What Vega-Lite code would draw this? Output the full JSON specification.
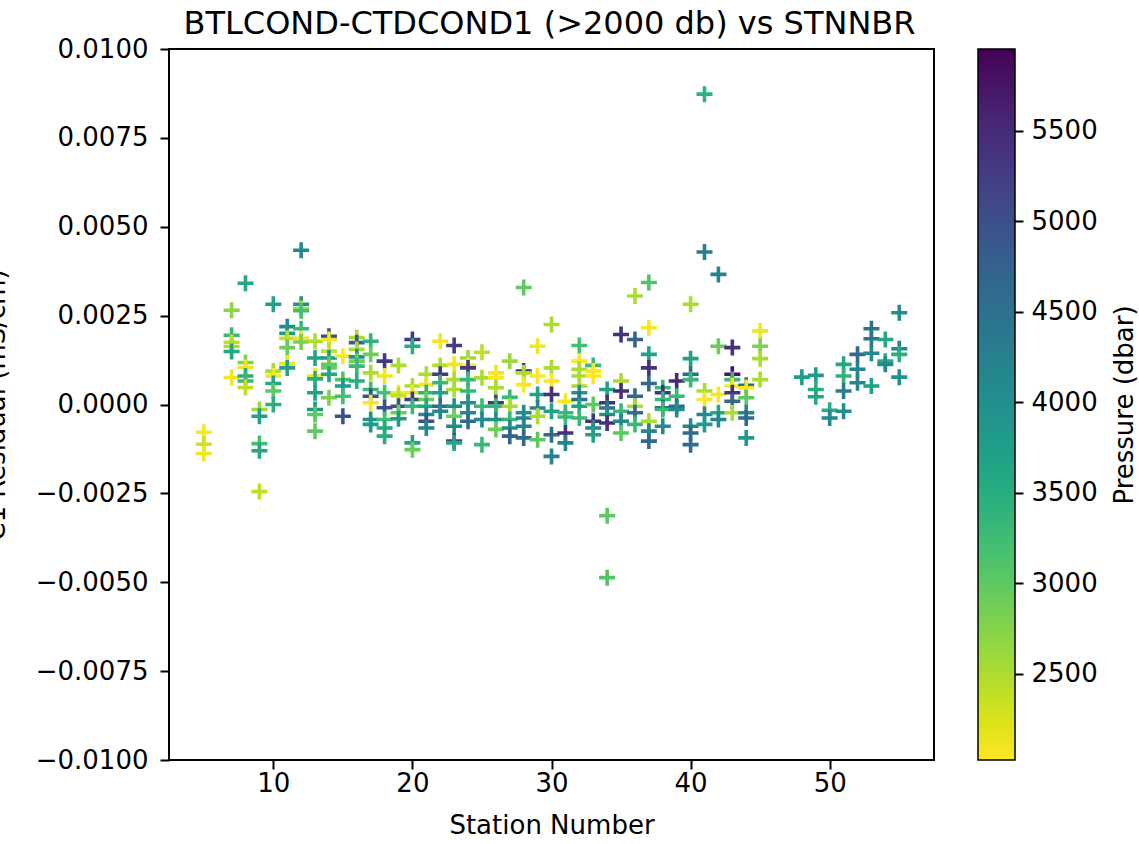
{
"$schema": "https://vega.github.io/schema/vega-lite/v6.json",
"width": 765, "height": 711,
"autosize": {"type": "none"},
"padding": {"left": 169, "top": 49, "right": 205, "bottom": 84},
"background": "white",
"config": {"font": "DejaVu Sans", "view": {"stroke": "black", "strokeWidth": 2}, "axis": {"grid": false}},
"data": {"values": [
{"stn":5,"res":-0.00078,"pres":2050},{"stn":5,"res":-0.00112,"pres":2300},{"stn":5,"res":-0.00138,"pres":2100},
{"stn":7,"res":0.00265,"pres":2700},{"stn":7,"res":0.00195,"pres":3300},{"stn":7,"res":0.00175,"pres":2400},{"stn":7,"res":0.00163,"pres":2500},{"stn":7,"res":0.00149,"pres":3600},{"stn":7,"res":0.00076,"pres":2100},
{"stn":8,"res":0.00341,"pres":3600},{"stn":8,"res":0.00118,"pres":2800},{"stn":8,"res":0.00104,"pres":2100},{"stn":8,"res":0.0008,"pres":3500},{"stn":8,"res":0.00066,"pres":3300},{"stn":8,"res":0.00048,"pres":2400},
{"stn":9,"res":-0.00014,"pres":2600},{"stn":9,"res":-0.00033,"pres":3700},{"stn":9,"res":-0.0011,"pres":3200},{"stn":9,"res":-0.0013,"pres":3600},{"stn":9,"res":-0.00245,"pres":2400},
{"stn":10,"res":0.00282,"pres":3700},{"stn":10,"res":0.00094,"pres":2500},{"stn":10,"res":0.0008,"pres":2100},{"stn":10,"res":0.00059,"pres":3600},{"stn":10,"res":0.00038,"pres":3000},{"stn":10,"res":0.0,"pres":3500},
{"stn":11,"res":0.00219,"pres":4100},{"stn":11,"res":0.002,"pres":3900},{"stn":11,"res":0.00186,"pres":2400},{"stn":11,"res":0.0016,"pres":2900},{"stn":11,"res":0.00115,"pres":2100},{"stn":11,"res":0.00103,"pres":3700},
{"stn":12,"res":0.00434,"pres":4100},{"stn":12,"res":0.00282,"pres":4000},{"stn":12,"res":0.0027,"pres":2500},{"stn":12,"res":0.00264,"pres":3200},{"stn":12,"res":0.00213,"pres":3300},{"stn":12,"res":0.00186,"pres":2100},{"stn":12,"res":0.00176,"pres":2800},
{"stn":13,"res":0.00178,"pres":2500},{"stn":13,"res":0.00131,"pres":3700},{"stn":13,"res":0.0008,"pres":2100},{"stn":13,"res":0.00072,"pres":3500},{"stn":13,"res":0.00033,"pres":3700},{"stn":13,"res":-0.00014,"pres":3900},{"stn":13,"res":-0.00028,"pres":3000},{"stn":13,"res":-0.00075,"pres":3000},
{"stn":14,"res":0.00192,"pres":5000},{"stn":14,"res":0.00183,"pres":2100},{"stn":14,"res":0.0015,"pres":2400},{"stn":14,"res":0.00131,"pres":3800},{"stn":14,"res":0.00113,"pres":3000},{"stn":14,"res":0.00103,"pres":2900},{"stn":14,"res":0.00085,"pres":3600},{"stn":14,"res":0.00019,"pres":2800},
{"stn":15,"res":0.00136,"pres":2050},{"stn":15,"res":0.0007,"pres":3100},{"stn":15,"res":0.00052,"pres":3800},{"stn":15,"res":0.00023,"pres":3200},{"stn":15,"res":-0.00033,"pres":5000},
{"stn":16,"res":0.00188,"pres":2500},{"stn":16,"res":0.00174,"pres":4800},{"stn":16,"res":0.00155,"pres":2500},{"stn":16,"res":0.00134,"pres":4000},{"stn":16,"res":0.00122,"pres":2900},{"stn":16,"res":0.00108,"pres":3300},{"stn":16,"res":0.00066,"pres":3500},
{"stn":17,"res":0.00178,"pres":3400},{"stn":17,"res":0.00141,"pres":2900},{"stn":17,"res":0.00089,"pres":2500},{"stn":17,"res":0.00042,"pres":3300},{"stn":17,"res":0.00023,"pres":5000},{"stn":17,"res":0.00005,"pres":2050},{"stn":17,"res":-0.00042,"pres":4000},{"stn":17,"res":-0.00056,"pres":3800},
{"stn":18,"res":0.00122,"pres":5300},{"stn":18,"res":0.0008,"pres":2100},{"stn":18,"res":0.00033,"pres":3200},{"stn":18,"res":-0.00009,"pres":5000},{"stn":18,"res":-0.00042,"pres":3200},{"stn":18,"res":-0.00066,"pres":3600},{"stn":18,"res":-0.00089,"pres":3500},
{"stn":19,"res":0.0011,"pres":2500},{"stn":19,"res":0.00033,"pres":2050},{"stn":19,"res":0.00025,"pres":2400},{"stn":19,"res":-0.00005,"pres":5000},{"stn":19,"res":-0.00023,"pres":2900},{"stn":19,"res":-0.0004,"pres":3800},
{"stn":20,"res":0.00183,"pres":5300},{"stn":20,"res":0.00164,"pres":3500},{"stn":20,"res":0.00052,"pres":2500},{"stn":20,"res":0.00033,"pres":2100},{"stn":20,"res":0.00014,"pres":5300},{"stn":20,"res":-0.00005,"pres":3300},{"stn":20,"res":-0.00108,"pres":3700},{"stn":20,"res":-0.00127,"pres":2900},
{"stn":21,"res":0.00085,"pres":2500},{"stn":21,"res":0.00056,"pres":2100},{"stn":21,"res":0.00033,"pres":3400},{"stn":21,"res":0.00014,"pres":2900},{"stn":21,"res":-0.00005,"pres":3600},{"stn":21,"res":-0.00028,"pres":4100},{"stn":21,"res":-0.00047,"pres":5000},{"stn":21,"res":-0.00066,"pres":4200},
{"stn":22,"res":0.00178,"pres":2100},{"stn":22,"res":0.0011,"pres":2500},{"stn":22,"res":0.00085,"pres":5300},{"stn":22,"res":0.00061,"pres":3300},{"stn":22,"res":0.00033,"pres":3700},{"stn":22,"res":-0.00005,"pres":4600},{"stn":22,"res":-0.00019,"pres":4100},
{"stn":23,"res":0.00166,"pres":5300},{"stn":23,"res":0.00113,"pres":2100},{"stn":23,"res":0.0007,"pres":2500},{"stn":23,"res":0.00042,"pres":2500},{"stn":23,"res":-0.00005,"pres":4000},{"stn":23,"res":-0.00033,"pres":2900},{"stn":23,"res":-0.00061,"pres":4100},{"stn":23,"res":-0.00103,"pres":5100},{"stn":23,"res":-0.00108,"pres":3600},
{"stn":24,"res":0.00131,"pres":2600},{"stn":24,"res":0.0011,"pres":2050},{"stn":24,"res":0.00103,"pres":5300},{"stn":24,"res":0.0007,"pres":3300},{"stn":24,"res":0.00038,"pres":3300},{"stn":24,"res":0.00005,"pres":4000},{"stn":24,"res":-0.00023,"pres":4100},{"stn":24,"res":-0.00047,"pres":4600},
{"stn":25,"res":0.00147,"pres":2400},{"stn":25,"res":0.00075,"pres":2500},{"stn":25,"res":-0.00005,"pres":3300},{"stn":25,"res":-0.00042,"pres":4100},{"stn":25,"res":-0.00113,"pres":3300},
{"stn":26,"res":0.00089,"pres":2100},{"stn":26,"res":0.00075,"pres":2050},{"stn":26,"res":0.00047,"pres":2500},{"stn":26,"res":0.00005,"pres":5300},{"stn":26,"res":-0.00005,"pres":3300},{"stn":26,"res":-0.00042,"pres":4000},{"stn":26,"res":-0.0007,"pres":2900},
{"stn":27,"res":0.00122,"pres":2600},{"stn":27,"res":0.0002,"pres":3300},{"stn":27,"res":-0.00005,"pres":2500},{"stn":27,"res":-0.00042,"pres":3300},{"stn":27,"res":-0.00066,"pres":4000},{"stn":27,"res":-0.00089,"pres":4700},
{"stn":28,"res":0.00329,"pres":3000},{"stn":28,"res":0.00094,"pres":5400},{"stn":28,"res":0.00089,"pres":2500},{"stn":28,"res":0.00056,"pres":2050},{"stn":28,"res":-0.00023,"pres":4000},{"stn":28,"res":-0.00038,"pres":4100},{"stn":28,"res":-0.00061,"pres":4200},{"stn":28,"res":-0.00094,"pres":4600},
{"stn":29,"res":0.00164,"pres":2100},{"stn":29,"res":0.0008,"pres":2050},{"stn":29,"res":0.00028,"pres":3700},{"stn":29,"res":-0.0001,"pres":4200},{"stn":29,"res":-0.00033,"pres":2500},{"stn":29,"res":-0.00099,"pres":3000},
{"stn":30,"res":0.00225,"pres":2500},{"stn":30,"res":0.00103,"pres":2500},{"stn":30,"res":0.00066,"pres":2050},{"stn":30,"res":0.00028,"pres":5400},{"stn":30,"res":-0.00019,"pres":3700},{"stn":30,"res":-0.00085,"pres":4600},{"stn":30,"res":-0.00146,"pres":4200},
{"stn":31,"res":0.00009,"pres":2050},{"stn":31,"res":-0.00023,"pres":3300},{"stn":31,"res":-0.00035,"pres":3300},{"stn":31,"res":-0.0008,"pres":5400},{"stn":31,"res":-0.00108,"pres":4200},
{"stn":32,"res":0.00166,"pres":3200},{"stn":32,"res":0.00122,"pres":2050},{"stn":32,"res":0.00099,"pres":2500},{"stn":32,"res":0.0008,"pres":2500},{"stn":32,"res":0.00052,"pres":2500},{"stn":32,"res":0.00033,"pres":3900},{"stn":32,"res":0.00014,"pres":4500},{"stn":32,"res":-0.00005,"pres":3700},{"stn":32,"res":-0.00038,"pres":3300},
{"stn":33,"res":0.0011,"pres":3300},{"stn":33,"res":0.00094,"pres":2050},{"stn":33,"res":0.0008,"pres":2050},{"stn":33,"res":0.0,"pres":3000},{"stn":33,"res":-0.00047,"pres":5400},{"stn":33,"res":-0.00066,"pres":4100},{"stn":33,"res":-0.00085,"pres":3700},
{"stn":34,"res":0.00042,"pres":3700},{"stn":34,"res":0.00005,"pres":5400},{"stn":34,"res":-0.0001,"pres":4500},{"stn":34,"res":-0.00028,"pres":4000},{"stn":34,"res":-0.00052,"pres":5400},{"stn":34,"res":-0.00313,"pres":3000},{"stn":34,"res":-0.00487,"pres":3100},
{"stn":35,"res":0.00197,"pres":5400},{"stn":35,"res":0.00066,"pres":2500},{"stn":35,"res":0.00038,"pres":5400},{"stn":35,"res":-0.00019,"pres":3300},{"stn":35,"res":-0.00047,"pres":4100},{"stn":35,"res":-0.0008,"pres":3000},
{"stn":36,"res":0.00305,"pres":2500},{"stn":36,"res":0.00183,"pres":4700},{"stn":36,"res":0.00023,"pres":4600},{"stn":36,"res":-0.00005,"pres":2500},{"stn":36,"res":-0.00023,"pres":4600},{"stn":36,"res":-0.00056,"pres":3300},
{"stn":37,"res":0.00343,"pres":3100},{"stn":37,"res":0.00216,"pres":2050},{"stn":37,"res":0.00141,"pres":3700},{"stn":37,"res":0.00103,"pres":5400},{"stn":37,"res":0.00059,"pres":4600},{"stn":37,"res":-0.00047,"pres":2500},{"stn":37,"res":-0.00075,"pres":4100},{"stn":37,"res":-0.00103,"pres":4600},
{"stn":38,"res":0.00047,"pres":3300},{"stn":38,"res":0.00033,"pres":5400},{"stn":38,"res":0.00014,"pres":3300},{"stn":38,"res":-0.00009,"pres":4600},{"stn":38,"res":-0.00014,"pres":3300},{"stn":38,"res":-0.00061,"pres":4100},
{"stn":39,"res":0.00066,"pres":5500},{"stn":39,"res":0.00023,"pres":3300},{"stn":39,"res":-0.00005,"pres":4600},{"stn":39,"res":-0.00014,"pres":4000},
{"stn":40,"res":0.00282,"pres":2500},{"stn":40,"res":0.00129,"pres":3700},{"stn":40,"res":0.00085,"pres":4600},{"stn":40,"res":0.0007,"pres":3300},{"stn":40,"res":-0.00061,"pres":4100},{"stn":40,"res":-0.0008,"pres":4600},{"stn":40,"res":-0.00113,"pres":4600},
{"stn":41,"res":0.00873,"pres":3400},{"stn":41,"res":0.00429,"pres":4300},{"stn":41,"res":0.00038,"pres":2500},{"stn":41,"res":0.00014,"pres":2050},{"stn":41,"res":-0.00028,"pres":4100},{"stn":41,"res":-0.00056,"pres":3800},
{"stn":42,"res":0.00366,"pres":4200},{"stn":42,"res":0.00164,"pres":2900},{"stn":42,"res":0.00028,"pres":2050},{"stn":42,"res":-0.00023,"pres":3600},{"stn":42,"res":-0.00042,"pres":4100},
{"stn":43,"res":0.0016,"pres":5400},{"stn":43,"res":0.00085,"pres":5800},{"stn":43,"res":0.0007,"pres":3300},{"stn":43,"res":0.00052,"pres":2050},{"stn":43,"res":0.00033,"pres":5400},{"stn":43,"res":0.00009,"pres":4600},{"stn":43,"res":-0.00023,"pres":2500},
{"stn":44,"res":0.00054,"pres":4600},{"stn":44,"res":0.00047,"pres":2050},{"stn":44,"res":0.00019,"pres":3000},{"stn":44,"res":-0.00023,"pres":4100},{"stn":44,"res":-0.00038,"pres":4600},{"stn":44,"res":-0.00094,"pres":3900},
{"stn":45,"res":0.00207,"pres":2100},{"stn":45,"res":0.00164,"pres":2800},{"stn":45,"res":0.00129,"pres":2500},{"stn":45,"res":0.0007,"pres":2500},
{"stn":48,"res":0.00077,"pres":3800},
{"stn":49,"res":0.00082,"pres":3800},{"stn":49,"res":0.00042,"pres":3500},{"stn":49,"res":0.00022,"pres":3600},
{"stn":50,"res":-0.00016,"pres":3500},{"stn":50,"res":-0.00038,"pres":4100},
{"stn":51,"res":0.00113,"pres":3600},{"stn":51,"res":0.0008,"pres":3400},{"stn":51,"res":0.00038,"pres":4300},{"stn":51,"res":-0.00019,"pres":4000},
{"stn":52,"res":0.00141,"pres":4600},{"stn":52,"res":0.00099,"pres":4200},{"stn":52,"res":0.00061,"pres":4100},
{"stn":53,"res":0.00213,"pres":4400},{"stn":53,"res":0.00185,"pres":4400},{"stn":53,"res":0.00144,"pres":4100},{"stn":53,"res":0.00052,"pres":3700},
{"stn":54,"res":0.00183,"pres":3600},{"stn":54,"res":0.00122,"pres":3500},{"stn":54,"res":0.00113,"pres":4100},
{"stn":55,"res":0.00258,"pres":4000},{"stn":55,"res":0.00157,"pres":4100},{"stn":55,"res":0.00141,"pres":3500},{"stn":55,"res":0.00077,"pres":4000}
]},
"layer": [
{"mark": {"type": "point", "shape": "M-1,0L1,0M0,-1L0,1", "filled": false, "strokeWidth": 3.6, "size": 256, "opacity": 1, "strokeCap": "butt"},
 "encoding": {
  "x": {"field": "stn", "type": "quantitative", "scale": {"domain": [2.5, 57.5], "nice": false, "zero": false},
        "axis": {"values": [10,20,30,40,50], "format": "d", "title": "Station Number", "domain": false, "tickColor": "black", "tickSize": 9, "tickWidth": 2, "labelFontSize": 26, "labelColor": "black", "labelPadding": 1, "titleFontSize": 26, "titleFontWeight": "normal", "titleColor": "black", "titlePadding": 16}},
  "y": {"field": "res", "type": "quantitative", "scale": {"domain": [-0.01, 0.01], "nice": false, "zero": false},
        "axis": {"values": [-0.01,-0.0075,-0.005,-0.0025,0,0.0025,0.005,0.0075,0.01], "format": ".4f", "title": "C1 Residual (mS/cm)", "domain": false, "tickColor": "black", "tickSize": 9, "tickWidth": 2, "labelFontSize": 26, "labelColor": "black", "labelPadding": 12, "titleFontSize": 26, "titleFontWeight": "normal", "titleColor": "black", "titleAngle": 270, "titleBaseline": "alphabetic", "titleAlign": "center", "titleX": -165, "titleY": 355.5}},
  "color": {"field": "pres", "type": "quantitative", "scale": {"scheme": "viridis", "reverse": true, "domain": [2024, 5952], "nice": false, "zero": false},
        "legend": {"orient": "none", "legendX": 809, "legendY": 0, "direction": "vertical", "gradientLength": 711, "gradientThickness": 37, "title": null, "padding": 0, "labelOpacity": 0, "labelFontSize": 1, "gradientStrokeColor": "black", "gradientStrokeWidth": 1.5}}
 }},
{"mark": {"type": "point", "opacity": 0},
 "encoding": {
  "x": {"field": "stn", "type": "quantitative", "scale": {"domain": [2.5, 57.5], "nice": false, "zero": false},
        "axis": {"orient": "top", "labels": false, "ticks": false, "domain": false, "title": "BTLCOND-CTDCOND1 (>2000 db) vs STNNBR", "titleFontSize": 32, "titleFontWeight": "normal", "titleColor": "black", "titleBaseline": "alphabetic", "titleAlign": "center", "titleAnchor": "middle", "titleX": 380, "titleY": -16}},
  "y": {"field": "pres", "type": "quantitative", "scale": {"domain": [2024, 5952], "nice": false, "zero": false},
        "axis": {"orient": "right", "offset": 80, "values": [2500,3000,3500,4000,4500,5000,5500], "format": "d", "domain": false, "tickColor": "black", "tickSize": 9, "tickWidth": 2, "labelFontSize": 26, "labelColor": "black", "labelPadding": 8, "title": "Pressure (dbar)", "titleFontSize": 26, "titleFontWeight": "normal", "titleColor": "black", "titleAngle": 270, "titleBaseline": "alphabetic", "titleAlign": "center", "titleX": 118, "titleY": 355.5}}
 }}
],
"resolve": {"scale": {"x": "independent", "y": "independent"}, "axis": {"x": "independent", "y": "independent"}}
}
